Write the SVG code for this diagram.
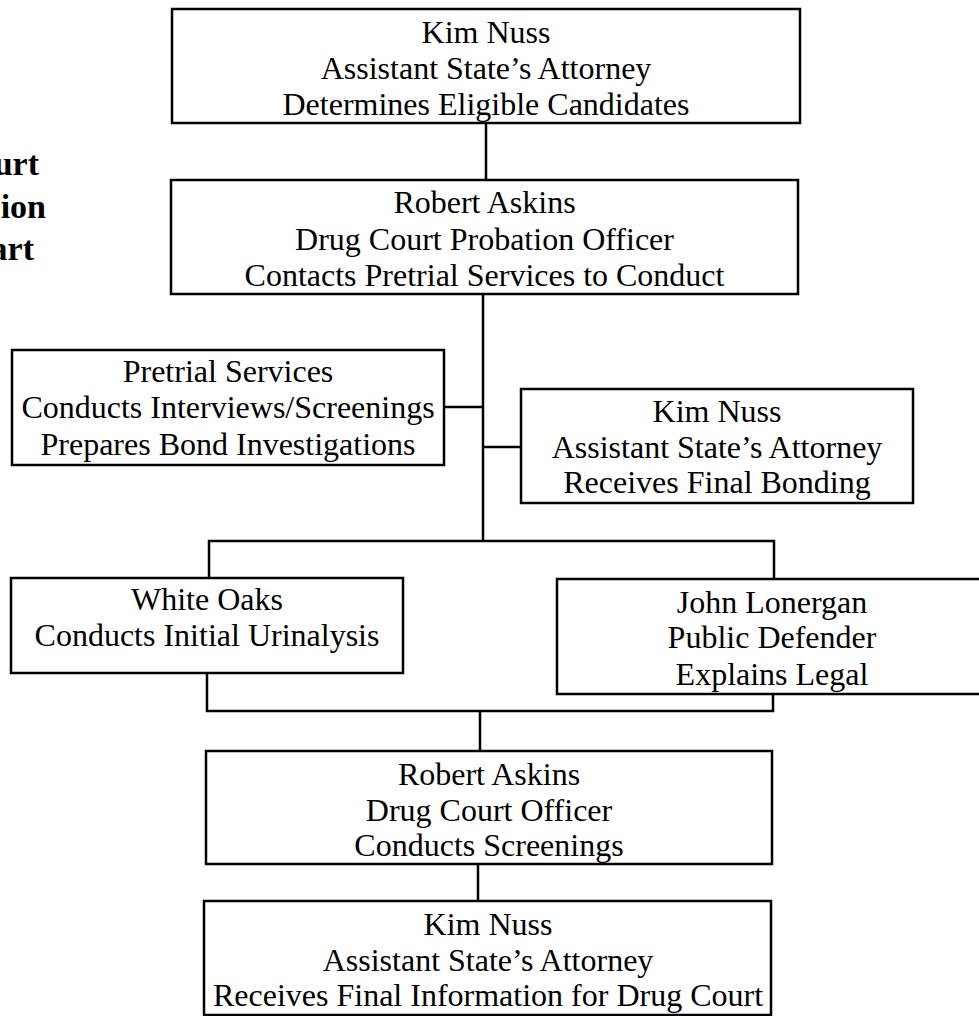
<svg xmlns="http://www.w3.org/2000/svg" width="979" height="1016" viewBox="0 0 979 1016">
<style>
.box{fill:#fff;stroke:#000;stroke-width:2.5}
.t{font-family:"Liberation Serif","Times New Roman",serif;font-size:32px;fill:#000;text-anchor:middle}
.title{font-family:"Liberation Serif","Times New Roman",serif;font-size:34px;font-weight:bold;fill:#000;text-anchor:end}
#connectors path{fill:none;stroke:#000;stroke-width:2.5}
</style>
<rect width="979" height="1016" fill="#fff"/>
<g id="title">
<text class="title" x="39" y="175">urt</text>
<text class="title" x="46" y="218">ion</text>
<text class="title" x="34" y="260">art</text>
</g>
<g id="connectors">
<path d="M486 123V180"/>
<path d="M483 294V541"/>
<path d="M444 407H483"/>
<path d="M483 447H521"/>
<path d="M209 578V541H774V579"/>
<path d="M207 673V711H773V694"/>
<path d="M480 711V751"/>
<path d="M478 864V901"/>
</g>
<g id="n1">
<rect class="box" x="172" y="9" width="628" height="114"/>
<text class="t" x="486" y="43">Kim Nuss</text>
<text class="t" x="486" y="79">Assistant State’s Attorney</text>
<text class="t" x="486" y="115">Determines Eligible Candidates</text>
</g>
<g id="n2">
<rect class="box" x="171" y="180" width="627" height="114"/>
<text class="t" x="484.5" y="213">Robert Askins</text>
<text class="t" x="484.5" y="250">Drug Court Probation Officer</text>
<text class="t" x="484.5" y="286">Contacts Pretrial Services to Conduct</text>
</g>
<g id="n3">
<rect class="box" x="12" y="350" width="432" height="115"/>
<text class="t" x="228" y="382">Pretrial Services</text>
<text class="t" x="228" y="418">Conducts Interviews/Screenings</text>
<text class="t" x="228" y="455">Prepares Bond Investigations</text>
</g>
<g id="n4">
<rect class="box" x="521" y="389" width="392" height="114"/>
<text class="t" x="717" y="422">Kim Nuss</text>
<text class="t" x="717" y="458">Assistant State’s Attorney</text>
<text class="t" x="717" y="493">Receives Final Bonding</text>
</g>
<g id="n5">
<rect class="box" x="11" y="578" width="392" height="95"/>
<text class="t" x="207" y="610">White Oaks</text>
<text class="t" x="207" y="646">Conducts Initial Urinalysis</text>
</g>
<g id="n6">
<rect class="box" x="557" y="579" width="440" height="115"/>
<text class="t" x="772" y="613">John Lonergan</text>
<text class="t" x="772" y="648">Public Defender</text>
<text class="t" x="772" y="685">Explains Legal</text>
</g>
<g id="n7">
<rect class="box" x="206" y="751" width="566" height="113"/>
<text class="t" x="489" y="785">Robert Askins</text>
<text class="t" x="489" y="821">Drug Court Officer</text>
<text class="t" x="489" y="856">Conducts Screenings</text>
</g>
<g id="n8">
<rect class="box" x="204" y="901" width="567" height="114"/>
<text class="t" x="488" y="935">Kim Nuss</text>
<text class="t" x="488" y="971">Assistant State’s Attorney</text>
<text class="t" x="488" y="1006">Receives Final Information for Drug Court</text>
</g>
</svg>
